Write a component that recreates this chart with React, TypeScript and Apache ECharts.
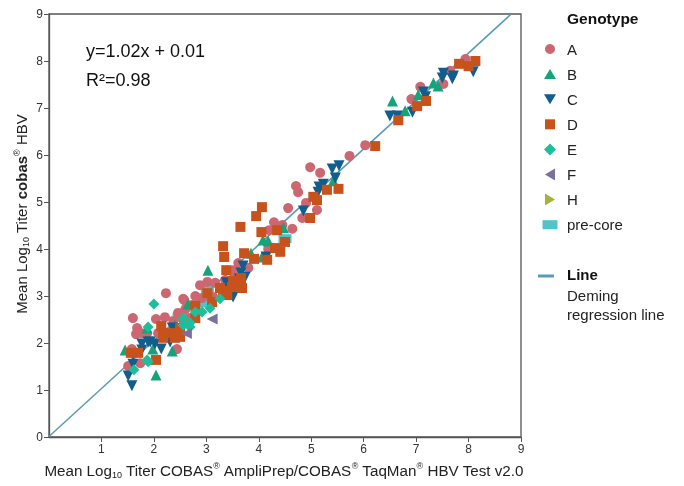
import React, { useEffect, useRef } from "react";
import * as echarts from "echarts";

const genotypes = ["A", "B", "C", "D", "E", "F", "H", "pre-core"];

const seriesA: number[][] = [
  [7.94, 8.04], [7.65, 7.79], [7.52, 7.51], [7.08, 7.45], [6.91, 7.19], [6.03, 6.21], [5.73, 5.98],
  [4.98, 5.74], [5.17, 5.62], [4.71, 5.34], [4.75, 5.21], [4.9, 4.98], [4.56, 4.87], [5.11, 4.83],
  [4.83, 4.66], [4.45, 4.51], [4.64, 4.43], [4.29, 4.57], [4.2, 4.4], [4.18, 4.0], [3.61, 3.7],
  [3.8, 3.6], [3.51, 3.51], [3.51, 3.55], [3.36, 3.34], [2.88, 3.23], [3.02, 3.3], [3.17, 3.28],
  [3.13, 2.98], [2.79, 3.0], [2.56, 2.94], [2.92, 2.96], [2.58, 2.91], [2.73, 2.81], [2.23, 3.06],
  [1.6, 2.53], [2.04, 2.51], [2.21, 2.55], [2.46, 2.64], [2.6, 2.72], [2.37, 2.47], [2.56, 2.49],
  [2.67, 2.53], [1.68, 2.32], [1.77, 2.21], [1.66, 2.19], [1.87, 2.21], [2.08, 2.21], [1.58, 1.87],
  [2.44, 1.87], [1.74, 1.57], [1.51, 1.51]
];
const seriesB: number[][] = [
  [7.33, 7.53], [7.42, 7.47], [7.04, 7.28], [6.55, 7.15], [6.79, 6.94], [5.42, 5.45], [4.47, 4.45],
  [4.08, 4.19], [4.18, 4.17], [3.85, 3.91], [4.06, 3.83], [3.03, 3.55], [2.65, 2.83], [2.82, 2.7],
  [2.4, 2.38], [1.87, 2.32], [1.45, 1.85], [1.98, 1.87], [2.35, 1.83], [2.04, 1.32]
];
const seriesC: number[][] = [
  [8.09, 7.77], [7.52, 7.74], [7.71, 7.68], [7.5, 7.64], [7.69, 7.62], [7.14, 7.34], [7.18, 7.24],
  [6.5, 6.83], [6.64, 6.83], [6.93, 6.91], [5.53, 5.77], [5.4, 5.7], [5.46, 5.51], [5.23, 5.38],
  [5.15, 5.32], [5.13, 5.21], [4.85, 4.81], [4.14, 3.83], [3.7, 3.64], [3.66, 3.49], [3.74, 3.4],
  [3.63, 3.36], [3.38, 3.28], [3.53, 3.17], [3.51, 2.98], [2.35, 2.32], [1.93, 2.02], [1.89, 2.02],
  [1.77, 1.98], [2.02, 1.98], [2.14, 1.87], [2.31, 2.02], [1.77, 1.85], [1.6, 1.74], [1.6, 1.55],
  [1.51, 1.3], [1.58, 1.09]
];
const seriesD: number[][] = [
  [7.82, 7.94], [8.13, 8.0], [8.0, 7.89], [7.19, 7.15], [7.02, 7.04], [6.66, 6.74], [6.22, 6.19],
  [5.3, 5.26], [5.52, 5.28], [5.04, 5.11], [5.11, 5.04], [4.98, 4.66], [4.06, 4.89], [3.95, 4.7],
  [3.65, 4.47], [4.35, 4.4], [4.05, 4.36], [4.5, 4.15], [3.32, 4.06], [4.31, 4.02], [4.41, 3.94],
  [3.72, 3.91], [3.34, 3.83], [3.91, 3.79], [4.16, 3.77], [3.38, 3.55], [3.66, 3.38], [3.51, 3.32],
  [3.49, 3.19], [3.68, 3.17], [3.26, 3.17], [3.32, 3.11], [3.02, 3.06], [3.4, 3.02], [3.11, 2.87],
  [2.79, 2.79], [2.79, 2.53], [2.14, 2.36], [2.18, 2.21], [2.35, 2.21], [2.5, 2.32], [2.5, 2.13],
  [2.4, 2.11], [2.18, 2.11], [2.04, 1.64], [1.56, 1.79], [1.7, 1.79]
];
const seriesE: number[][] = [
  [2.0, 2.83], [2.56, 2.38], [2.69, 2.34], [2.79, 2.66], [3.26, 2.94], [3.07, 2.74], [2.92, 2.66],
  [2.56, 2.53], [2.69, 2.43], [1.89, 2.34], [1.89, 1.6], [1.87, 1.64], [1.62, 1.43]
];
const seriesF: number[][] = [[3.11, 2.51], [2.62, 2.2]];
const seriesH: number[][] = [];
const seriesPreCore: number[][] = [[3.02, 3.15], [2.94, 2.85], [2.48, 2.55], [4.5, 4.22]];

const slope = 1.02;
const intercept = 0.01;
const lineX = [0, 8.81];

const tickValues = [0, 1, 2, 3, 4, 5, 6, 7, 8, 9];

const colors = ["#cc6670", "#17a37a", "#115d8c", "#c8521c", "#1dbf9b", "#7d6f9c", "#a5b23a", "#4fc4c9"];
const symbols = ["circle", "triangle", "triangle", "rect", "diamond", "triangle", "triangle", "rect"];
const rotates = [0, 0, 180, 0, 0, 90, -90, 0];
const sizes: any[] = [10, 11, 11, 10, 11, 11, 11, [13, 9]];
const legendIcons = [
  "circle",
  "path://M6,0 L12,10 L0,10 Z",
  "path://M0,0 L12,0 L6,10 Z",
  "rect",
  "path://M6,0 L12,6 L6,12 L0,6 Z",
  "path://M0,6 L10,0 L10,12 Z",
  "path://M0,0 L10,6 L0,12 Z",
  "rect",
];
const legendSizes = [
  [10, 10], [12, 10], [12, 10], [10, 10], [12, 12], [10, 12], [10, 12], [15, 9],
];

const FONT = "'Liberation Sans', Arial, sans-serif";

export default function App() {
  const ref = useRef<HTMLDivElement>(null);
  useEffect(() => {
    if (!ref.current) return;
    const chart = echarts.init(ref.current, null, { renderer: "svg" });
    const dataSets = [seriesA, seriesB, seriesC, seriesD, seriesE, seriesF, seriesH, seriesPreCore];
    const scatter = genotypes.map((g, i) => ({
      name: g,
      type: "scatter",
      data: dataSets[i],
      symbol: symbols[i],
      symbolRotate: rotates[i],
      symbolSize: sizes[i],
      itemStyle: { color: colors[i], opacity: 1 },
      z: i === 7 ? 1 : 3,
    }));
    const lineData = lineX.map((x) => [x, slope * x + intercept]);
    const legends = genotypes.map((g, i) => ({
      data: [{ name: g, icon: legendIcons[i] }],
      orient: "vertical",
      left: 550 - legendSizes[i][0] / 2 - 5,
      top: 44 + i * 25.1 - 10,
      itemWidth: legendSizes[i][0],
      itemHeight: legendSizes[i][1],
      itemGap: 0,
      height: 20,
      textStyle: { fontSize: 15, color: "#222", lineHeight: 20, fontFamily: FONT,
        padding: [0, 0, 0, 17 - legendSizes[i][0] / 2 - 5] },
      selectedMode: false,
    }));
    chart.setOption({
      animation: false,
      textStyle: { fontFamily: FONT },
      grid: { left: 49, right: 163, top: 14, bottom: 49, show: true, borderColor: "#555", borderWidth: 1.3 },
      xAxis: {
        type: "value", min: 0, max: 9, interval: 1,
        axisLine: { lineStyle: { color: "#555", width: 1.3 } },
        axisTick: { show: true, inside: false, length: 5, lineStyle: { color: "#555" } },
        axisLabel: { color: "#333", fontSize: 12, margin: 6, showMinLabel: false, fontFamily: FONT,
          formatter: (v: number) => (tickValues.includes(v) ? String(v) : "") },
        splitLine: { show: false },
      },
      yAxis: {
        type: "value", min: 0, max: 9, interval: 1,
        axisLine: { lineStyle: { color: "#555", width: 1.3 } },
        axisTick: { show: true, inside: false, length: 5, lineStyle: { color: "#555" } },
        axisLabel: { color: "#333", fontSize: 12, margin: 6, fontFamily: FONT },
        splitLine: { show: false },
      },
      legend: legends,
      series: [
        ...scatter,
        {
          name: "Line", type: "line", data: lineData, symbol: "none", z: 2,
          lineStyle: { color: "#5b9bb8", width: 1.5 }, silent: true,
        },
      ],
      graphic: [
        { type: "text", left: 86, top: 42, style: { text: "y=1.02x + 0.01", fontSize: 18, fill: "#111", fontFamily: FONT } },
        { type: "text", left: 86, top: 71, style: { text: "R\u00b2=0.98", fontSize: 18, fill: "#111", fontFamily: FONT } },
        { type: "text", left: 567, top: 10, style: { text: "Genotype", fontSize: 15.5, fontWeight: "bold", fill: "#111", fontFamily: FONT } },
        { type: "line", shape: { x1: 538, y1: 276, x2: 554, y2: 276 }, style: { stroke: "#5b9bb8", lineWidth: 3 } },
        { type: "text", left: 567, top: 267, style: { text: "Line", fontSize: 15, fontWeight: "bold", fill: "#111", fontFamily: FONT } },
        { type: "text", left: 567, top: 286, style: { text: "Deming\nregression line", fontSize: 15, lineHeight: 19, fill: "#222", fontFamily: FONT } },
        {
          type: "text", x: 284, y: 470,
          style: {
            text: "{n|Mean Log}{sub|10}{n| Titer COBAS}{sup|\u00ae}{n| AmpliPrep/COBAS}{sup|\u00ae}{n| TaqMan}{sup|\u00ae}{n| HBV Test v2.0}",
            align: "center", verticalAlign: "middle",
            rich: {
              n: { fontSize: 15.2, fill: "#222", fontFamily: FONT, lineHeight: 18 },
              sub: { fontSize: 9, fill: "#222", fontFamily: FONT, verticalAlign: "bottom", lineHeight: 10 },
              sup: { fontSize: 9, fill: "#222", fontFamily: FONT, verticalAlign: "top", lineHeight: 10 },
            },
          },
        },
        {
          type: "text", x: 21, y: 214, rotation: Math.PI / 2,
          style: {
            text: "{n|Mean Log}{sub|10}{n| Titer }{b|cobas}{sup|\u00ae}{n| HBV}",
            align: "center", verticalAlign: "middle",
            rich: {
              n: { fontSize: 15, fill: "#222", fontFamily: FONT, lineHeight: 18 },
              b: { fontSize: 15, fill: "#222", fontFamily: FONT, fontWeight: "bold", lineHeight: 18 },
              sub: { fontSize: 9, fill: "#222", fontFamily: FONT, verticalAlign: "bottom", lineHeight: 10 },
              sup: { fontSize: 9, fill: "#222", fontFamily: FONT, verticalAlign: "top", lineHeight: 10 },
            },
          },
        },
      ],
    });
    return () => chart.dispose();
  }, []);
  return <div ref={ref} style={{ position: "fixed", left: 0, top: 0, width: 684, height: 486 }} />;
}
